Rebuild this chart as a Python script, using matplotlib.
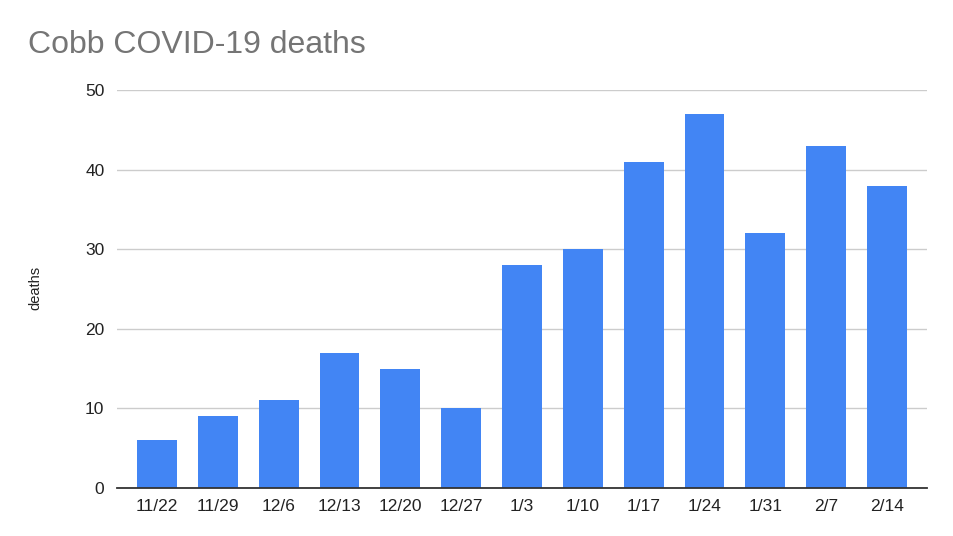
import numpy as np
import matplotlib.pyplot as plt

# Donnees
weeks = ["11/22", "11/29", "12/6", "12/13", "12/20", "12/27", "1/3",
         "1/10", "1/17", "1/24", "1/31", "2/7", "2/14"]
deaths = [6, 9, 11, 17, 15, 10, 28, 30, 41, 47, 32, 43, 38]
yticks = [0, 10, 20, 30, 40, 50]

plt.rcParams['font.family'] = ['Liberation Sans', 'DejaVu Sans']

fig = plt.figure(figsize=(9.54, 5.36), dpi=100)
ax = fig.add_axes([117/954, 1 - 488/536, 810/954, 398/536])

x = np.arange(len(weeks))
ax.bar(x, deaths, width=0.655, color="#4285f4", zorder=3)

ax.set_xlim(-0.66, 12.66)
ax.set_ylim(0, 50)
ax.set_yticks(yticks)
ax.set_xticks(x)
ax.set_xticklabels(weeks)

ax.grid(axis="y", color="#cccccc", linewidth=1, zorder=0)
for s in ["top", "right", "left"]:
    ax.spines[s].set_visible(False)
ax.spines["bottom"].set_color("#333333")
ax.spines["bottom"].set_linewidth(1.3)
ax.spines["bottom"].set_zorder(4)
ax.tick_params(axis="both", length=0, labelsize=12.5, colors="#222222")
ax.tick_params(axis="x", pad=8)
ax.tick_params(axis="y", pad=9)

ax.set_ylabel("")
fig.text(35/954, 1 - 288/536, "deaths", fontsize=10.5, color="#222222",
         rotation=90, va="center", ha="center")

fig.text(28/954, 1 - 45/536, "Cobb COVID-19 deaths", fontsize=23,
         color="#757575", va="center", ha="left")

fig.savefig("out.png", dpi=100)
